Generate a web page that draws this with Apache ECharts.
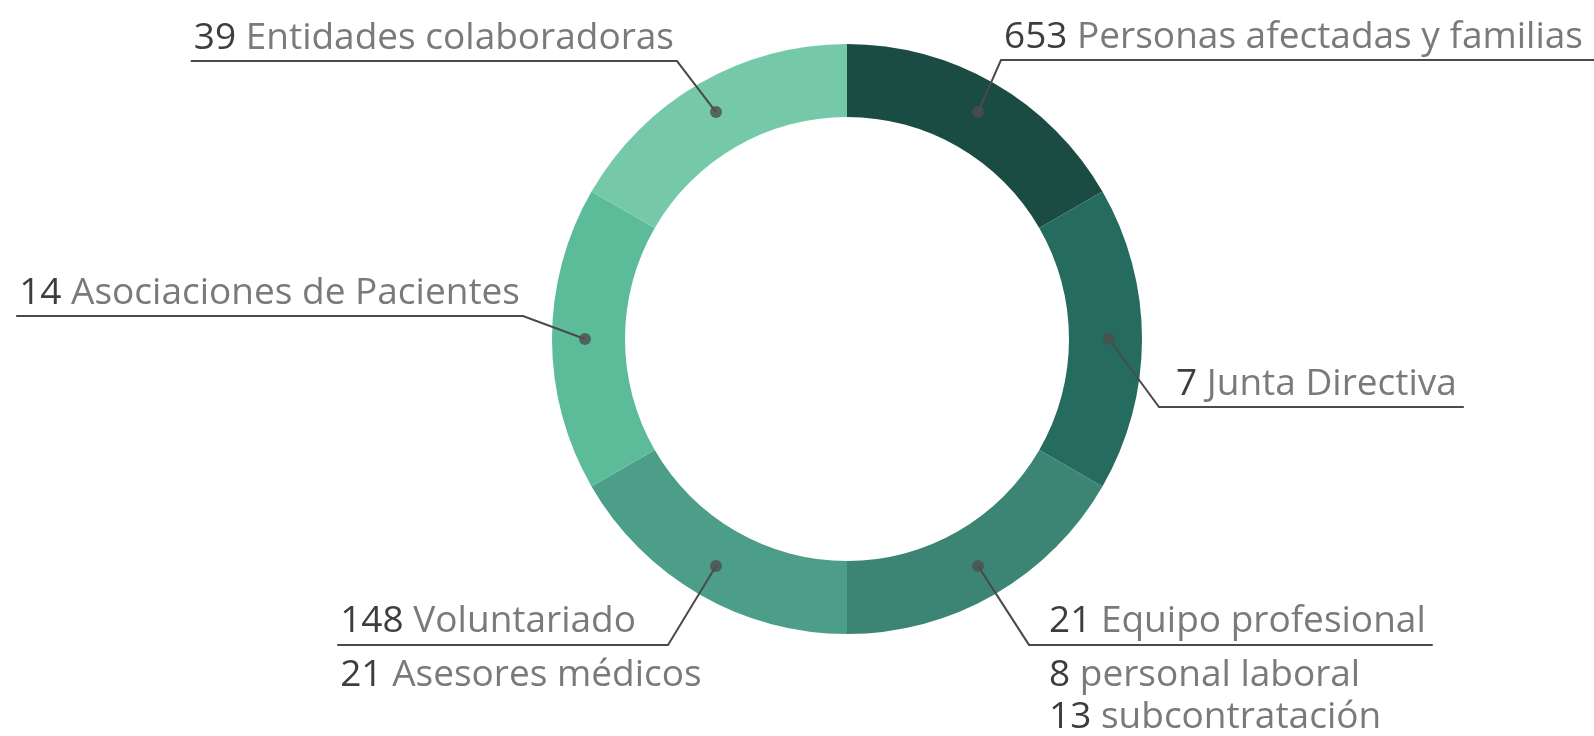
<!DOCTYPE html>
<html>
<head>
<meta charset="utf-8">
<script src="https://cdn.jsdelivr.net/npm/echarts@6/dist/echarts.min.js"></script>
<style>
  html, body { margin: 0; padding: 0; background: #fff; }
  #donut { width: 1594px; height: 736px; }
</style>
</head>
<body>
<div id="donut"></div>
<script>
// 分类名称与人数
const categories = ['Personas afectadas y familias', 'Junta Directiva', 'Equipo profesional',
  'Voluntariado', 'Asociaciones de Pacientes', 'Entidades colaboradoras'];
const counts = [653, 7, 21, 148, 14, 39];
// 附加行（标签下方）
const subNames = [[], [], ['personal laboral', 'subcontratación'], ['Asesores médicos'], [], []];
const subCounts = [[], [], [8, 13], [21], [], []];
// 环形图每段等分
const sliceWeights = [1, 1, 1, 1, 1, 1];
const sliceColors = ['#1b4c44', '#266b5f', '#3c8575', '#4d9e88', '#5cbc9a', '#75c9a9'];

const FONT = 'Open Sans';
const FS = 37;
const CENTER = [847, 339];
const MID_R = 262;
// 圆点 -> 折点 偏移, 文字与折点间距, 下划线超出文字长度
const leader = [[23, -52], [50, 68], [51, 79], [-48, 79], [-62, -23], [-39, -51]];
const textGap = [3, 17, 20, 32, 3, 3];
const lineExtra = [30, 7, 7, 3, 3, 3];

let ctx = document.createElement('canvas').getContext('2d');
function textWidth(str) {
  ctx.font = FS + 'px "' + FONT + '"';
  return ctx.measureText(str).width;
}

// 每段中间角度（顺时针，从12点开始）
let total = sliceWeights.reduce((a, b) => a + b, 0);
let midAngles = [];
let acc = 0;
sliceWeights.forEach(w => {
  midAngles.push((acc + w / 2) / total * 2 * Math.PI);
  acc += w;
});

let chart = echarts.init(document.getElementById('donut'));

let option = {
  animation: false,
  polar: { center: CENTER, radius: 295 },
  angleAxis: { type: 'category', data: categories, startAngle: 90, clockwise: true, show: false },
  radiusAxis: { type: 'value', min: 0, max: 295, show: false },
  series: [
    {
      // 色环
      type: 'pie',
      z: 1,
      center: CENTER,
      radius: [222, 295],
      startAngle: 90,
      clockwise: true,
      silent: true,
      label: { show: false },
      labelLine: { show: false },
      data: categories.map((c, i) => ({ name: c, value: sliceWeights[i], itemStyle: { color: sliceColors[i] } }))
    },
    {
      // 透明饼图，只用来放标签和引线
      type: 'pie',
      z: 5,
      center: CENTER,
      radius: [0, MID_R],
      startAngle: 90,
      clockwise: true,
      silent: true,
      avoidLabelOverlap: false,
      itemStyle: { color: 'rgba(0,0,0,0)' },
      label: {
        show: true,
        fontFamily: FONT,
        fontSize: FS,
        lineHeight: 42,
        formatter: p => {
          let i = p.dataIndex;
          let s = '{N|' + counts[i] + '}{T| ' + categories[i] + '}';
          subNames[i].forEach((n, k) => { s += '\n{n|' + subCounts[i][k] + '}{t| ' + n + '}'; });
          return s;
        },
        rich: {
          N: { color: '#3d3d3d', fontFamily: FONT, fontSize: FS, lineHeight: 66 },
          T: { color: '#7a7a7a', fontFamily: FONT, fontSize: FS, lineHeight: 66 },
          n: { color: '#3d3d3d', fontFamily: FONT, fontSize: FS, lineHeight: 42 },
          t: { color: '#7a7a7a', fontFamily: FONT, fontSize: FS, lineHeight: 42 }
        }
      },
      labelLine: { show: true, z: 10, lineStyle: { color: '#4a4a4a', width: 2 } },
      data: categories.map((c, i) => ({ name: c, value: sliceWeights[i] }))
    },
    {
      // 圆点
      type: 'scatter',
      z: 6,
      coordinateSystem: 'polar',
      symbolSize: 12,
      silent: true,
      itemStyle: { color: '#4d4d4d' },
      data: categories.map(c => [MID_R, c])
    }
  ]
};

option.series[1].labelLayout = function (params) {
  let i = params.dataIndex;
  let a = midAngles[i];
  let dot = [CENTER[0] + MID_R * Math.sin(a), CENTER[1] - MID_R * Math.cos(a)];
  let elbow = [dot[0] + leader[i][0], dot[1] + leader[i][1]];
  let w = textWidth(counts[i] + ' ' + categories[i]);
  let isLeft = leader[i][0] < 0;
  let x, end;
  if (isLeft) {
    x = elbow[0] - textGap[i] - w;
    end = x - lineExtra[i];
  } else {
    x = elbow[0] + textGap[i];
    end = x + w + lineExtra[i];
  }
  return {
    x: x,
    y: elbow[1] - 56,
    align: 'left',
    verticalAlign: 'top',
    labelLinePoints: [dot, elbow, [end, elbow[1]]]
  };
};

chart.setOption(option);
window.onresize = chart.resize;
</script>
</body>
</html>
